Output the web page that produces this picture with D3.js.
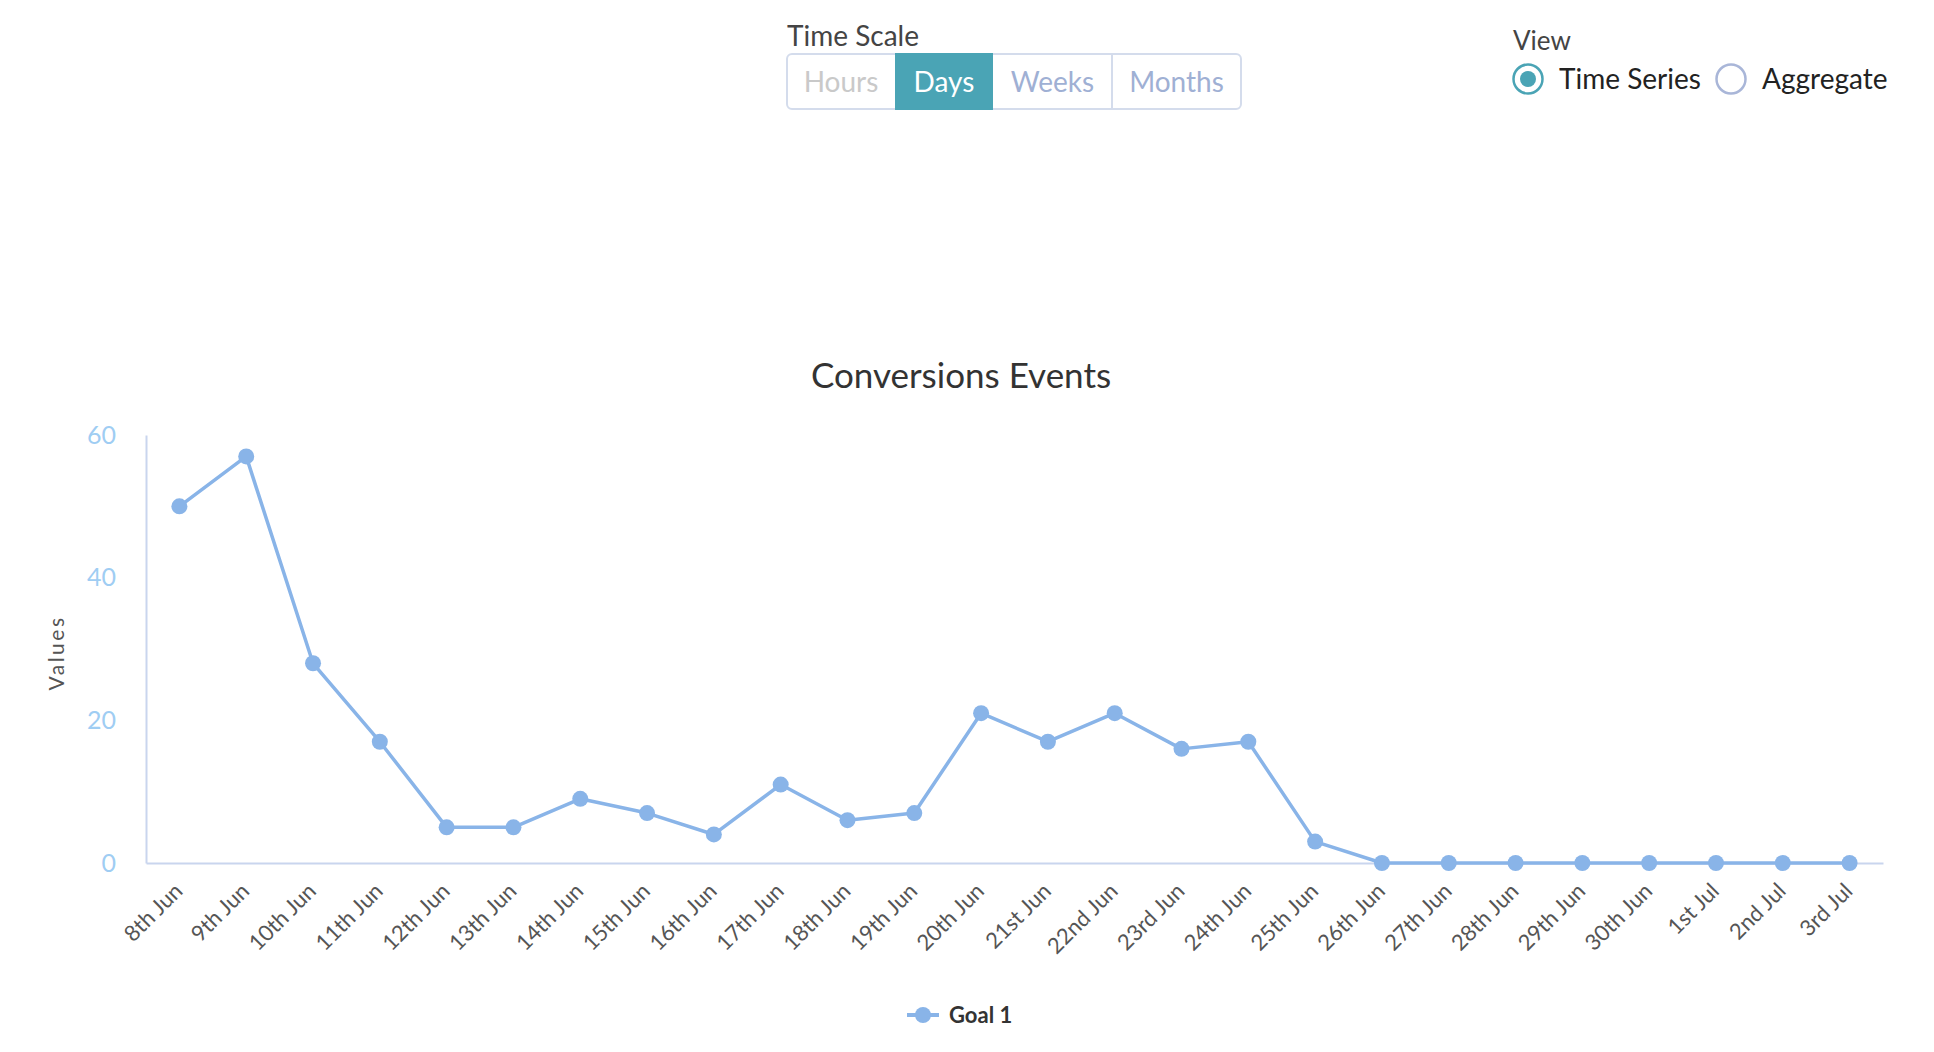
<!DOCTYPE html>
<html>
<head>
<meta charset="utf-8">
<script src="https://cdn.jsdelivr.net/npm/d3@7"></script>
<style>
  html, body { margin: 0; padding: 0; background: #fff; }
  body { width: 1934px; height: 1052px; overflow: hidden; font-family: Lato, "Open Sans", sans-serif; }
  svg text { font-family: Lato, "Open Sans", sans-serif; }
</style>
</head>
<body>
<div id="chart"></div>
<script>
// --- Data ---
const dates = ["8th Jun", "9th Jun", "10th Jun", "11th Jun", "12th Jun", "13th Jun", "14th Jun",
    "15th Jun", "16th Jun", "17th Jun", "18th Jun", "19th Jun", "20th Jun", "21st Jun", "22nd Jun",
    "23rd Jun", "24th Jun", "25th Jun", "26th Jun", "27th Jun", "28th Jun", "29th Jun", "30th Jun",
    "1st Jul", "2nd Jul", "3rd Jul"];
const goal1 = [50, 57, 28, 17, 5, 5, 9, 7, 4, 11, 6, 7, 21, 17, 21, 16, 17, 3, 0, 0, 0, 0, 0, 0, 0, 0];
const yTicks = [0, 20, 40, 60];
const timeScaleOptions = ["Hours", "Days", "Weeks", "Months"];
const timeScaleWidths = [108, 98, 119, 129];
const viewOptions = ["Time Series", "Aggregate"];

const lineColor = '#89b4e8';
const teal = '#4aa4b5';

const svg = d3.select('#chart').append('svg')
    .attr('width', 1934)
    .attr('height', 1052);

// --- Time scale buttons ---
const ctrl = svg.append('g');
ctrl.append('text')
    .attr('x', 787).attr('y', 46)
    .attr('font-size', 28).attr('fill', '#444')
    .text('Time Scale');

const bx = 787, by = 54, bh = 55;
const totalW = d3.sum(timeScaleWidths);
let offsets = [0];
timeScaleWidths.forEach((w, i) => offsets.push(offsets[i] + w));

ctrl.append('rect')
    .attr('x', bx).attr('y', by).attr('width', totalW).attr('height', bh)
    .attr('rx', 5).attr('fill', '#fff')
    .attr('stroke', '#d4dcec').attr('stroke-width', 2);

timeScaleOptions.forEach((name, i) => {
    const x0 = bx + offsets[i];
    if (name === 'Days') {
        ctrl.append('rect')
            .attr('x', x0).attr('y', by - 1).attr('width', timeScaleWidths[i]).attr('height', bh + 2)
            .attr('fill', teal);
    } else if (i > 0 && timeScaleOptions[i - 1] !== 'Days') {
        ctrl.append('line')
            .attr('x1', x0).attr('x2', x0).attr('y1', by).attr('y2', by + bh)
            .attr('stroke', '#d4dcec').attr('stroke-width', 2);
    }
    ctrl.append('text')
        .attr('x', x0 + timeScaleWidths[i] / 2).attr('y', 92)
        .attr('text-anchor', 'middle')
        .attr('font-size', 28)
        .attr('fill', name === 'Days' ? '#fff' : (name === 'Hours' ? '#c9c9c9' : '#9fb0d4'))
        .text(name);
});

// --- View radios ---
ctrl.append('text')
    .attr('x', 1513).attr('y', 50)
    .attr('font-size', 26).attr('fill', '#444')
    .text('View');

const radioX = [1528, 1731];
viewOptions.forEach((name, i) => {
    const selected = i === 0;
    ctrl.append('circle')
        .attr('cx', radioX[i]).attr('cy', 79).attr('r', 14.5)
        .attr('fill', '#fff')
        .attr('stroke', selected ? teal : '#a9b6d8').attr('stroke-width', 2.5);
    if (selected) {
        ctrl.append('circle')
            .attr('cx', radioX[i]).attr('cy', 79).attr('r', 8)
            .attr('fill', teal);
    }
    ctrl.append('text')
        .attr('x', radioX[i] + 31).attr('y', 89)
        .attr('font-size', 28).attr('fill', '#222')
        .text(name);
});

// --- Chart ---
svg.append('text')
    .attr('x', 961).attr('y', 388)
    .attr('text-anchor', 'middle')
    .attr('font-size', 35).attr('fill', '#333')
    .text('Conversions Events');

const x = d3.scaleBand().domain(dates).range([146, 1883]).padding(0);
const y = d3.scaleLinear().domain([0, 60]).range([863, 435]);

const yAxis = svg.append('g')
    .attr('transform', 'translate(146,0)')
    .call(d3.axisLeft(y).tickValues(yTicks).tickSize(0).tickPadding(30));
yAxis.select('.domain').attr('stroke', '#c9d5ee').attr('stroke-width', 2);
yAxis.selectAll('text')
    .attr('font-size', 25).attr('fill', '#9fcdf3');

const xAxis = svg.append('g')
    .attr('transform', 'translate(0,863)')
    .call(d3.axisBottom(x).tickSize(0));
xAxis.select('.domain').attr('stroke', '#c9d5ee').attr('stroke-width', 2);
xAxis.selectAll('text')
    .attr('font-size', 22).attr('fill', '#555')
    .attr('text-anchor', 'end')
    .attr('y', 0).attr('dy', '0.35em')
    .attr('transform', 'translate(-1,24) rotate(-45)');

svg.append('text')
    .attr('transform', 'translate(64,653) rotate(-90)')
    .attr('text-anchor', 'middle')
    .attr('font-size', 21).attr('letter-spacing', 2.5).attr('fill', '#555')
    .text('Values');

const cx = d => x(d) + x.bandwidth() / 2;

svg.append('path')
    .datum(goal1)
    .attr('fill', 'none')
    .attr('stroke', lineColor)
    .attr('stroke-width', 3.5)
    .attr('stroke-linejoin', 'round')
    .attr('d', d3.line().x((d, i) => cx(dates[i])).y(d => y(d)));

svg.selectAll('.dot')
    .data(goal1)
    .enter()
    .append('circle')
    .attr('class', 'dot')
    .attr('cx', (d, i) => cx(dates[i]))
    .attr('cy', d => y(d))
    .attr('r', 8)
    .attr('fill', lineColor);

// --- Legend ---
const legend = svg.append('g');
legend.append('line')
    .attr('x1', 907).attr('x2', 939).attr('y1', 1015).attr('y2', 1015)
    .attr('stroke', lineColor).attr('stroke-width', 4);
legend.append('circle')
    .attr('cx', 923).attr('cy', 1015).attr('r', 8)
    .attr('fill', lineColor);
legend.append('text')
    .attr('x', 949).attr('y', 1023)
    .attr('font-size', 22).attr('font-weight', 'bold').attr('fill', '#333')
    .text('Goal 1');
</script>
</body>
</html>
